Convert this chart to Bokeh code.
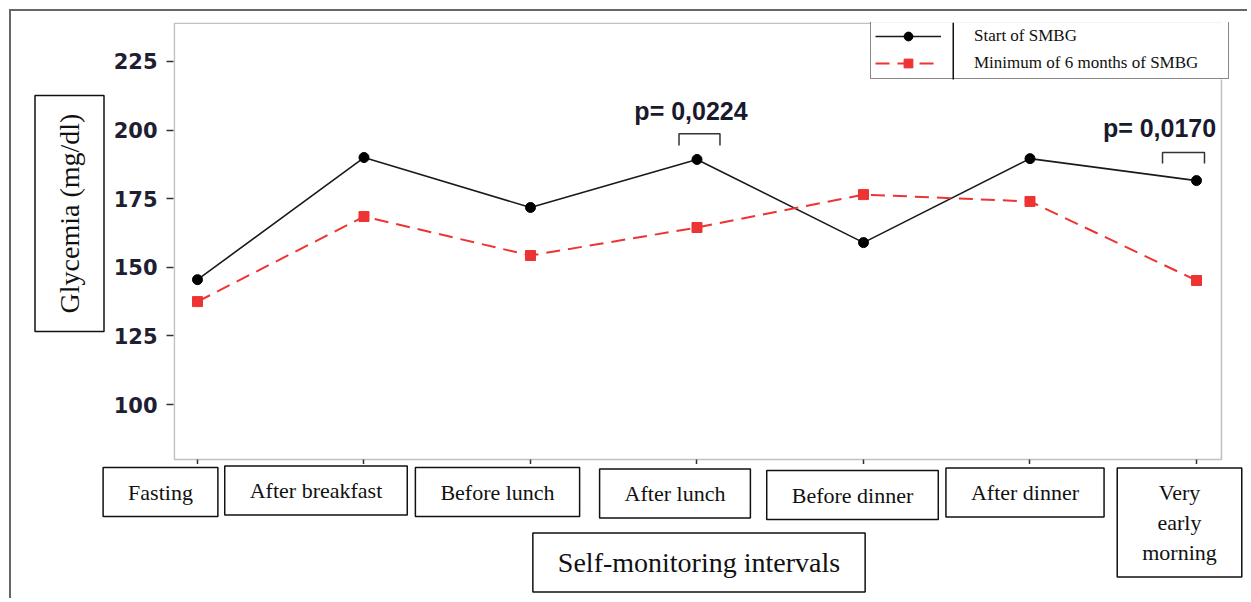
import math
from bokeh.plotting import figure
from bokeh.layouts import row, column
from bokeh.models import Label, FixedTicker, BoxAnnotation, Range1d
from bokeh.embed import file_html
from bokeh.resources import INLINE

# ---- data ----
categories = ["Fasting", "After breakfast", "Before lunch", "After lunch",
              "Before dinner", "After dinner", "Very\nearly\nmorning"]
start_smbg = [145.5, 190.0, 171.8, 189.3, 159.0, 189.6, 181.6]
min6_smbg = [137.5, 168.5, 154.3, 164.5, 176.5, 174.0, 145.2]
y_ticks = [100, 125, 150, 175, 200, 225]
series_labels = ["Start of SMBG", "Minimum of 6 months of SMBG"]
p_values = ["p= 0,0224", "p= 0,0170"]
p_value_at = [3, 6]
x_title = "Self-monitoring intervals"
y_title = "Glycemia (mg/dl)"

x = list(range(len(categories)))

SERIF = "Liberation Serif"
INK = "#111111"
FRAME = "#333333"
BORDER = "2px solid #666666"

# ---- layout constants (screen geometry) ----
X_START, X_END = -0.1441, 6.3063      # main frame extent in category units
X_START_BOTTOM = -1.1291              # bottom strip starts further left
Y_START, Y_END = 77.41, 239.21        # main frame extent in mg/dl
BOX_RIGHT, BOX_BOTTOM = 6.150, 79.96  # visible plot window

TOP_H = 455
BOTTOM_H = 134

LEG_X, LEG_Y, LEG_W, LEG_H = 697, 387, 357, 57
LEG_DIV = 82


def bare(fig):
    fig.outline_line_color = None
    for g in fig.grid:
        g.visible = False
    return fig


# ---- left strip with the boxed y title ----
left = bare(figure(width=100, height=TOP_H, x_range=(0, 1), y_range=(0, 1),
                   x_axis_type=None, y_axis_type=None, min_border=0,
                   output_backend="svg", toolbar_location=None,
                   styles={"margin-top": "9px", "margin-left": "9px",
                           "border-top": BORDER, "border-left": BORDER}))
left.add_layout(Label(x=58, y=253, x_units="screen", y_units="screen",
                      text=y_title, angle=math.pi / 2,
                      text_align="center", text_baseline="middle",
                      text_font=SERIF, text_font_size="28px", text_color=INK,
                      background_fill_color="white",
                      border_line_color=INK, border_line_width=1.5,
                      padding=(18, 19)))

# ---- main chart ----
p = figure(width=1138, height=TOP_H,
           x_range=Range1d(X_START, X_END), y_range=Range1d(Y_START, Y_END),
           x_axis_location="above",
           output_backend="svg", toolbar_location=None,
           min_border_left=64, min_border_right=0,
           min_border_top=11, min_border_bottom=0,
           styles={"margin-top": "9px", "border-top": BORDER})
bare(p)

xa = p.xaxis[0]
xa.ticker = FixedTicker(ticks=x)
xa.fixed_location = BOX_BOTTOM
xa.major_label_overrides = {i: "" for i in x}
xa.major_label_text_font_size = "0px"
xa.major_label_standoff = 0
xa.major_tick_out = 0
xa.major_tick_in = 7
xa.minor_tick_out = 0
xa.minor_tick_in = 0
xa.axis_line_color = None
xa.major_tick_line_color = FRAME
xa.major_tick_line_width = 1.5

ya = p.yaxis[0]
ya.ticker = FixedTicker(ticks=y_ticks)
ya.major_label_text_font = "DejaVu Sans"
ya.major_label_text_font_style = "bold"
ya.major_label_text_font_size = "21px"
ya.major_label_text_color = "#1f1f33"
ya.major_label_standoff = 9
ya.major_tick_out = 7
ya.major_tick_in = 0
ya.minor_tick_out = 0
ya.minor_tick_in = 0
ya.axis_line_color = None
ya.major_tick_line_color = FRAME
ya.major_tick_line_width = 1.5

# visible plot window
p.add_layout(BoxAnnotation(left=X_START + 0.005, right=BOX_RIGHT,
                           bottom=BOX_BOTTOM, top=Y_END - 0.3,
                           fill_alpha=0, line_color=FRAME, line_width=1.6))

# ---- series ----
p.line(x, start_smbg, color="#1a1a1a", line_width=1.6, legend_label=series_labels[0])
p.scatter(x, start_smbg, marker="circle", size=10, color="#000000", legend_label=series_labels[0])
p.line(x, min6_smbg, color="#ee3333", line_width=2, line_dash="14 8", legend_label=series_labels[1])
p.scatter(x, min6_smbg, marker="square", size=10, color="#ee3333", legend_label=series_labels[1])

lg = p.legend[0]
lg.location = (LEG_X, LEG_Y)
lg.padding = 4
lg.margin = 0
lg.spacing = 5
lg.glyph_width = 66
lg.glyph_height = 22
lg.label_height = 22
lg.label_width = 250
lg.label_standoff = 33
lg.label_text_font = SERIF
lg.label_text_font_size = "17px"
lg.label_text_color = INK
lg.border_line_color = INK
lg.border_line_width = 1.5
lg.background_fill_alpha = 0

# legend backdrop (white) and the divider between glyph and text cells
p.add_layout(BoxAnnotation(left=LEG_X, right=LEG_X + LEG_W, top=LEG_Y + LEG_H, bottom=LEG_Y,
                           left_units="screen", right_units="screen",
                           top_units="screen", bottom_units="screen",
                           fill_color="white", fill_alpha=1, line_color=None))
p.add_layout(BoxAnnotation(left=LEG_X + LEG_DIV, right=LEG_X + LEG_DIV + 1.5,
                           top=LEG_Y + LEG_H, bottom=LEG_Y,
                           left_units="screen", right_units="screen",
                           top_units="screen", bottom_units="screen",
                           fill_color=INK, fill_alpha=1, line_color=None))

# ---- significance brackets ----
series_at = [start_smbg[i] for i in p_value_at]
bracket_span = [(-0.108, 0.138), (-0.204, 0.048)]
bracket_gap = [9.4, 10.2]
bracket_leg = [4.3, 4.0]
xs, ys = [], []
for i, v, (a, b), g, l in zip(p_value_at, series_at, bracket_span, bracket_gap, bracket_leg):
    xs.append([i + a, i + a, i + b, i + b])
    ys.append([v + g - l, v + g, v + g, v + g - l])
p.multi_line(xs, ys, line_color=FRAME, line_width=1.5)

p_text_dx = [-0.036, -0.222]
p_text_dy = [17.8, 19.0]
for txt, i, v, dx, dy in zip(p_values, p_value_at, series_at, p_text_dx, p_text_dy):
    p.add_layout(Label(x=i + dx, y=v + dy, text=txt, text_align="center",
                       text_baseline="middle", text_font="Liberation Sans",
                       text_font_style="bold", text_font_size="25px",
                       text_color="#1a1a2e"))

# ---- bottom strip: boxed category labels and x title ----
bottom = bare(figure(width=1238, height=BOTTOM_H,
                     x_range=Range1d(X_START_BOTTOM, X_END), y_range=(0, 1),
                     x_axis_type=None, y_axis_type=None, min_border=0,
                     output_backend="svg", toolbar_location=None,
                     styles={"margin-left": "9px", "border-left": BORDER}))

label_dx = [-39, -50, -35, -24, -13, -7, -19]
label_sy = [106.5, 108, 106.5, 105, 103.5, 106, 76]
for i, (cat, dx, sy) in enumerate(zip(categories, label_dx, label_sy)):
    bottom.add_layout(Label(x=i, y=sy, x_units="data", y_units="screen", x_offset=dx,
                            text=cat, text_align="center", text_baseline="middle",
                            text_font=SERIF, text_font_size="22px", text_color=INK,
                            text_line_height=1.2,
                            background_fill_color="white",
                            border_line_color=INK, border_line_width=1.5,
                            padding=(25, 12)))

bottom.add_layout(Label(x=3, y=36, x_units="data", y_units="screen",
                        text=x_title, text_align="center", text_baseline="middle",
                        text_font=SERIF, text_font_size="28px", text_color=INK,
                        background_fill_color="white",
                        border_line_color=INK, border_line_width=1.5,
                        padding=(25, 14)))

layout = column(row(left, p), bottom)
open("out.html", "w").write(file_html(layout, INLINE))
